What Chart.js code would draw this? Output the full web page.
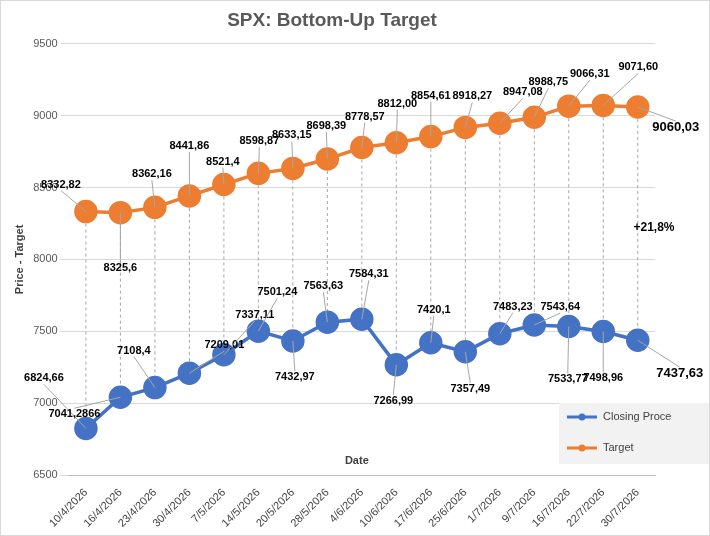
<!DOCTYPE html>
<html>
<head>
<meta charset="utf-8">
<script src="https://cdn.jsdelivr.net/npm/chart.js@4"></script>
<style>
  html, body { margin: 0; padding: 0; background: #fff; }
  #wrap { width: 708px; height: 534px; border: 1px solid #d9d9d9; }
</style>
</head>
<body>
<div id="wrap"><canvas id="spx-chart" width="708" height="534"></canvas></div>
<script>
// Chart data
const dates = ['10/4/2026','16/4/2026','23/4/2026','30/4/2026','7/5/2026','14/5/2026','20/5/2026','28/5/2026',
  '4/6/2026','10/6/2026','17/6/2026','25/6/2026','1/7/2026','9/7/2026','16/7/2026','22/7/2026','30/7/2026'];
const closingPrice = [6824.66, 7041.2866, 7108.4, 7209.01, 7337.11, 7501.24, 7432.97, 7563.63, 7584.31,
  7266.99, 7420.1, 7357.49, 7483.23, 7543.64, 7533.77, 7498.96, 7437.63];
const target = [8332.82, 8325.6, 8362.16, 8441.86, 8521.4, 8598.87, 8633.15, 8698.39, 8778.57,
  8812.00, 8854.61, 8918.27, 8947.08, 8988.75, 9066.31, 9071.60, 9060.03];
const closingLabels = ['6824,66','7041,2866','7108,4','7209,01','7337,11','7501,24','7432,97','7563,63','7584,31',
  '7266,99','7420,1','7357,49','7483,23','7543,64','7533,77','7498,96','7437,63'];
const targetLabels = ['8332,82','8325,6','8362,16','8441,86','8521,4','8598,87','8633,15','8698,39','8778,57',
  '8812,00','8854,61','8918,27','8947,08','8988,75','9066,31','9071,60','9060,03'];
const yTicks = [6500, 7000, 7500, 8000, 8500, 9000, 9500];

// label placement offsets (px) relative to each point
const closingOffsets = [[-42,-50],[-46,17],[-21,-37],[35,-28],[31,-40],[19,-39],[2,36],[-4,-36],[7,-45],
  [-3,36],[3,-33],[5,37],[13,-27],[26,-18],[-1,53],[0,47],[42,33]];
const targetOffsets = [[-25,-27],[0,55],[-3,-33],[0,-50],[-1,-23],[1,-32],[-1,-33],[-1,-33],[3,-31],
  [1,-39],[0,-41],[7,-31],[23,-31],[14,-35],[21,-32],[35,-38],[38,20]];

const BLUE = '#4472C4';
const ORANGE = '#ED7D31';
const FONT = 'Liberation Sans, Arial, sans-serif';

const annotations = {
  id: 'annotations',
  beforeDatasetsDraw(chart) {
    const ctx = chart.ctx;
    const tMeta = chart.getDatasetMeta(1).data;
    const cMeta = chart.getDatasetMeta(0).data;
    ctx.save();
    // dashed drop lines between the two series
    ctx.strokeStyle = '#a6a6a6';
    ctx.lineWidth = 1;
    ctx.setLineDash([3, 3]);
    tMeta.forEach((p, i) => {
      ctx.beginPath();
      ctx.moveTo(p.x, p.y);
      ctx.lineTo(cMeta[i].x, cMeta[i].y);
      ctx.stroke();
    });
    ctx.restore();
  },
  afterDatasetsDraw(chart) {
    const ctx = chart.ctx;
    const tMeta = chart.getDatasetMeta(1).data;
    const cMeta = chart.getDatasetMeta(0).data;
    ctx.save();
    ctx.lineWidth = 1;
    const drawLabels = (meta, labels, offsets) => {
      meta.forEach((p, i) => {
        const last = i === meta.length - 1;
        const lx = p.x + offsets[i][0], ly = p.y + offsets[i][1];
        ctx.strokeStyle = '#a6a6a6';
        ctx.beginPath();
        ctx.moveTo(p.x, p.y);
        ctx.lineTo(lx, ly + (offsets[i][1] < 0 ? 6 : -6));
        ctx.stroke();
        ctx.font = (last ? 'bold 13px ' : 'bold 11px ') + FONT;
        ctx.textAlign = 'center';
        ctx.textBaseline = 'middle';
        ctx.fillStyle = '#000';
        ctx.fillText(labels[i], lx, ly);
      });
    };
    drawLabels(cMeta, closingLabels, closingOffsets);
    drawLabels(tMeta, targetLabels, targetOffsets);
    ctx.font = 'bold 12px ' + FONT;
    ctx.fillStyle = '#000';
    ctx.textAlign = 'center';
    ctx.fillText('+21,8%', 653, 227);

    // legend box
    ctx.fillStyle = '#f2f2f2';
    ctx.fillRect(558, 402, 152, 61);
    const items = [['Closing Proce', BLUE, 416], ['Target', ORANGE, 447]];
    items.forEach(([txt, col, y]) => {
      ctx.strokeStyle = col;
      ctx.lineWidth = 3;
      ctx.beginPath();
      ctx.moveTo(566, y); ctx.lineTo(596, y); ctx.stroke();
      ctx.fillStyle = col;
      ctx.beginPath(); ctx.arc(581, y, 3.5, 0, Math.PI * 2); ctx.fill();
      ctx.fillStyle = '#404040';
      ctx.font = '11px ' + FONT;
      ctx.textAlign = 'left';
      ctx.fillText(txt, 602, y);
    });
    // x axis title inside plot
    const area = chart.chartArea;
    ctx.fillStyle = '#404040';
    ctx.font = 'bold 11px ' + FONT;
    ctx.textAlign = 'center';
    ctx.fillText('Date', (area.left + area.right) / 2 - 5, 460);
    ctx.restore();
  }
};

const ctx = document.getElementById('spx-chart').getContext('2d');
const spxChart = new Chart(ctx, {
  type: 'line',
  data: {
    labels: dates,
    datasets: [
      { label: 'Closing Proce', data: closingPrice, borderColor: BLUE, backgroundColor: BLUE,
        borderWidth: 3.5, pointRadius: 10, pointHoverRadius: 10, tension: 0 },
      { label: 'Target', data: target, borderColor: ORANGE, backgroundColor: ORANGE,
        borderWidth: 3.5, pointRadius: 10, pointHoverRadius: 10, tension: 0 }
    ]
  },
  options: {
    responsive: false,
    animation: false,
    layout: { padding: { left: 8, right: 54, top: 0, bottom: 2 } },
    plugins: {
      legend: { display: false },
      tooltip: { enabled: false },
      title: { display: true, text: 'SPX: Bottom-Up Target', color: '#595959',
        font: { family: FONT, size: 19, weight: 'bold' }, padding: { top: 8, bottom: 12 } }
    },
    scales: {
      x: {
        offset: true,
        grid: { display: false },
        border: { color: '#bfbfbf' },
        ticks: { color: '#404040', font: { family: FONT, size: 11 }, maxRotation: 45, minRotation: 45, autoSkip: false }
      },
      y: {
        min: yTicks[0], max: yTicks[yTicks.length - 1],
        afterBuildTicks: (axis) => { axis.ticks = yTicks.map(v => ({ value: v })); },
        grid: { color: '#d9d9d9' },
        border: { display: false },
        ticks: { color: '#595959', font: { family: FONT, size: 11 }, callback: (v) => String(v) },
        title: { display: true, text: 'Price - Target', color: '#404040', font: { family: FONT, size: 11, weight: 'bold' } }
      }
    }
  },
  plugins: [annotations]
});
</script>
</body>
</html>
